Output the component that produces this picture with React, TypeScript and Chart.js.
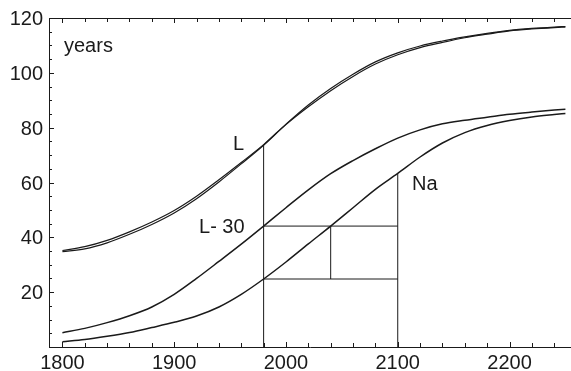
import React, { useEffect, useRef } from "react";
import { Chart, registerables } from "chart.js";

Chart.register(...registerables);

// ---- data ----
const years = [1800, 1820, 1840, 1860, 1880, 1900, 1920, 1940, 1960, 1980, 2000, 2020, 2040, 2060, 2080, 2100, 2120, 2140, 2160, 2180, 2200, 2220, 2240, 2250];
const lifeUpper = [35.2, 36.6, 38.9, 42, 45.6, 49.8, 55, 61, 67.3, 73.8, 81.3, 88.3, 94.3, 99.5, 104, 107.3, 109.8, 111.6, 113.1, 114.4, 115.5, 116.2, 116.7, 116.9];
const lifeLower = [34.8, 35.8, 38, 41.1, 44.7, 48.9, 54.1, 60.2, 66.8, 73.6, 81.1, 87.6, 93.5, 98.7, 103.2, 106.6, 109.2, 111.1, 112.8, 114.1, 115.3, 116, 116.5, 116.7];
const lifeMinus30 = [5.2, 6.8, 8.9, 11.4, 14.6, 19.2, 25, 31.2, 37.5, 44.1, 50.8, 57.3, 63.2, 68, 72.3, 76.2, 79.2, 81.4, 82.7, 83.8, 84.9, 85.7, 86.4, 86.7];
const naValues = [1.9, 2.7, 3.9, 5.3, 7.1, 9, 11.3, 14.6, 19.2, 24.8, 31, 37.6, 44.1, 50.8, 57.5, 63.3, 69.3, 74.4, 78.2, 80.8, 82.6, 83.9, 84.8, 85.2];

const xTickLabels = [1800, 1900, 2000, 2100, 2200];
const yTickLabels = [20, 40, 60, 80, 100, 120];

// guide construction lines
const guideYears = [1980, 2040, 2100];
const guideLevels = [44.1, 24.8]; // L-30 and Na at 1980
const guideTops = [73.7, 63.3]; // L at 1980, Na at 2100

// text labels (anchor in data units: left x, baseline y)
const textLabels = [
  { text: "years", x: 1801.4, y: 107.6 },
  { text: "L", x: 1952.6, y: 71.8 },
  { text: "L- 30", x: 1922.2, y: 41.6 },
  { text: "Na", x: 2112.7, y: 57.3 },
];

const FONT = '"Liberation Sans", Arial, Helvetica, sans-serif';
const INK = "#1a1a1a";

const pts = (ys: number[]) => years.map((x, i) => ({ x, y: ys[i] }));

const seg = (x1: number, y1: number, x2: number, y2: number) => [
  { x: x1, y: y1 },
  { x: x2, y: y2 },
];

const curve = (ys: number[], w: number) => ({
  data: pts(ys),
  borderColor: INK,
  borderWidth: w,
  pointRadius: 0,
  cubicInterpolationMode: "monotone" as const,
  fill: false,
});

const guide = (d: { x: number; y: number }[]) => ({
  data: d,
  borderColor: INK,
  borderWidth: 1,
  pointRadius: 0,
  tension: 0,
  fill: false,
});

const framePlugin = {
  id: "frame",
  afterDraw(chart: any) {
    const { ctx, chartArea, scales } = chart;
    const xs = scales.x;
    const ys = scales.y;
    ctx.save();
    ctx.strokeStyle = INK;
    ctx.lineWidth = 1;
    ctx.beginPath();
    // top line
    ctx.moveTo(chartArea.left, Math.round(chartArea.top) + 0.5);
    ctx.lineTo(chartArea.right, Math.round(chartArea.top) + 0.5);
    // x minor ticks (top and bottom, inward)
    for (let v = 1800; v <= 2250; v += 20) {
      const px = Math.round(xs.getPixelForValue(v)) + 0.5;
      const len = v % 100 === 0 ? 5 : 4;
      ctx.moveTo(px, chartArea.bottom);
      ctx.lineTo(px, chartArea.bottom - len);
      ctx.moveTo(px, chartArea.top);
      ctx.lineTo(px, chartArea.top + len);
    }
    // y minor ticks (left, inward)
    for (let v = 5; v < 120; v += 5) {
      const py = Math.round(ys.getPixelForValue(v)) + 0.5;
      const len = v % 20 === 0 ? 5 : 3;
      ctx.moveTo(chartArea.left, py);
      ctx.lineTo(chartArea.left + len, py);
    }
    ctx.stroke();

    // text labels
    ctx.fillStyle = INK;
    ctx.font = `20px ${FONT}`;
    ctx.textAlign = "left";
    ctx.textBaseline = "alphabetic";
    for (const t of textLabels) {
      ctx.fillText(t.text, xs.getPixelForValue(t.x), ys.getPixelForValue(t.y));
    }
    ctx.restore();
  },
};

export default function App() {
  const ref = useRef<HTMLCanvasElement | null>(null);

  useEffect(() => {
    if (!ref.current) return;
    const chart = new Chart(ref.current, {
      type: "line",
      data: {
        datasets: [
          curve(lifeUpper, 1.2),
          curve(lifeLower, 1.2),
          curve(lifeMinus30, 1.5),
          curve(naValues, 1.5),
          guide(seg(guideYears[0], 0, guideYears[0], guideTops[0])),
          guide(seg(guideYears[0], guideLevels[0], guideYears[2], guideLevels[0])),
          guide(seg(guideYears[0], guideLevels[1], guideYears[2], guideLevels[1])),
          guide(seg(guideYears[1], guideLevels[1], guideYears[1], guideLevels[0])),
          guide(seg(guideYears[2], 0, guideYears[2], guideTops[1])),
        ] as any,
      },
      options: {
        responsive: false,
        animation: false,
        events: [],
        layout: { padding: { top: 18, left: 0, right: 0, bottom: 0 } },
        plugins: {
          legend: { display: false },
          tooltip: { enabled: false },
        },
        scales: {
          x: {
            type: "linear",
            min: 1788,
            max: 2255,
            afterFit: (s: any) => {
              s.height = 24;
            },
            afterBuildTicks: (s: any) => {
              s.ticks = xTickLabels.map((v) => ({ value: v }));
            },
            grid: { display: true, drawOnChartArea: false, drawTicks: false },
            border: { display: true, color: INK, width: 1 },
            ticks: {
              padding: 4,
              color: INK,
              font: { family: FONT, size: 20 },
              maxRotation: 0,
              autoSkip: false,
              callback: (v: any) => String(v),
            },
          },
          y: {
            type: "linear",
            min: 0,
            max: 120,
            afterFit: (s: any) => {
              s.width = 49;
            },
            afterBuildTicks: (s: any) => {
              s.ticks = yTickLabels.map((v) => ({ value: v }));
            },
            grid: { display: true, drawOnChartArea: false, drawTicks: false },
            border: { display: true, color: INK, width: 1 },
            ticks: {
              padding: 6,
              labelOffset: 1.5,
              color: INK,
              font: { family: FONT, size: 20 },
              autoSkip: false,
              callback: (v: any) => String(v),
            },
          },
        },
      },
      plugins: [framePlugin],
    });
    return () => chart.destroy();
  }, []);

  return (
    <div style={{ position: "absolute", left: 0, top: 0, width: 571, height: 371, background: "#fff" }}>
      <canvas ref={ref} width={571} height={371} style={{ display: "block" }} />
    </div>
  );
}
